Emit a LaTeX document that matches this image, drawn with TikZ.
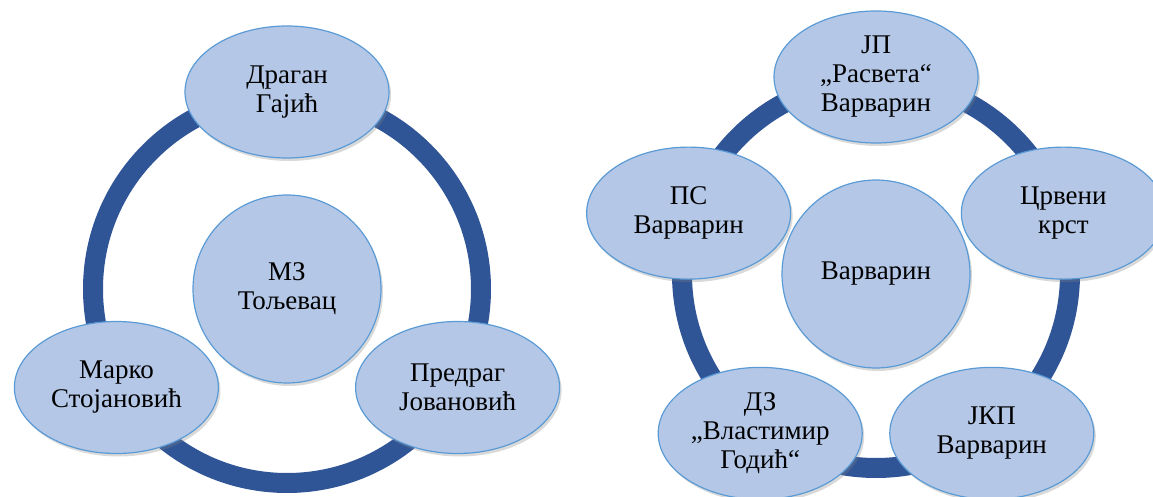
\documentclass[tikz,border=0pt]{standalone}
\usepackage{fontspec}
\setmainfont{Liberation Serif}
\usepackage{tikz}
\usetikzlibrary{shapes,shadows,positioning}
\definecolor{ringblue}{HTML}{2F5597}
\definecolor{nodeblue}{HTML}{B4C7E7}
\definecolor{edgeblue}{HTML}{5B9BD5}

\begin{document}
\begin{tikzpicture}[x=0.5pt, y=0.5pt,
    ring/.style={draw=ringblue, line width=10pt},
    oval/.style={ellipse, draw=edgeblue, fill=nodeblue, line width=0.6pt, inner sep=0pt,
      minimum width=102pt, minimum height=66pt, align=center,
      font=\rmfamily\fontsize{13.5}{14.5}\selectfont,
      drop shadow={opacity=0.3, shadow xshift=1pt, shadow yshift=-1.5pt}},
    hub/.style={oval, circle, minimum size=94pt}]
  \useasboundingbox (0,0) rectangle (1153,-497);

  % left: MZ Toljevac
  \coordinate (lc) at (287,-289);
  \draw[ring] (lc) circle (194);
  \node[hub] (mz) at (lc) {МЗ\\Тољевац};
  \node[oval] (gajic) at ([shift={(90:197)}]lc) {Драган\\Гајић};
  \node[oval] (stojanovic) at ([shift={(210:197)}]lc) {Марко\\Стојановић};
  \node[oval] (jovanovic) at ([shift={(330:197)}]lc) {Предраг\\Јовановић};

  % right: Varvarin
  \coordinate (rc) at (876,-274);
  \draw[ring] (rc) circle (194);
  \node[hub] (varvarin) at (rc) {Варварин};
  \node[oval] (rasveta) at ([shift={(90:197)}]rc) {ЈП\\„Расвета“\\Варварин};
  \node[oval] (krst) at ([shift={(18:197)}]rc) {Црвени\\крст};
  \node[oval] (jkp) at ([shift={(-54:197)}]rc) {ЈКП\\Варварин};
  \node[oval] (dz) at ([shift={(-126:197)}]rc) {ДЗ\\„Властимир\\Годић“};
  \node[oval] (ps) at ([shift={(162:197)}]rc) {ПС\\Варварин};
\end{tikzpicture}
\end{document}
